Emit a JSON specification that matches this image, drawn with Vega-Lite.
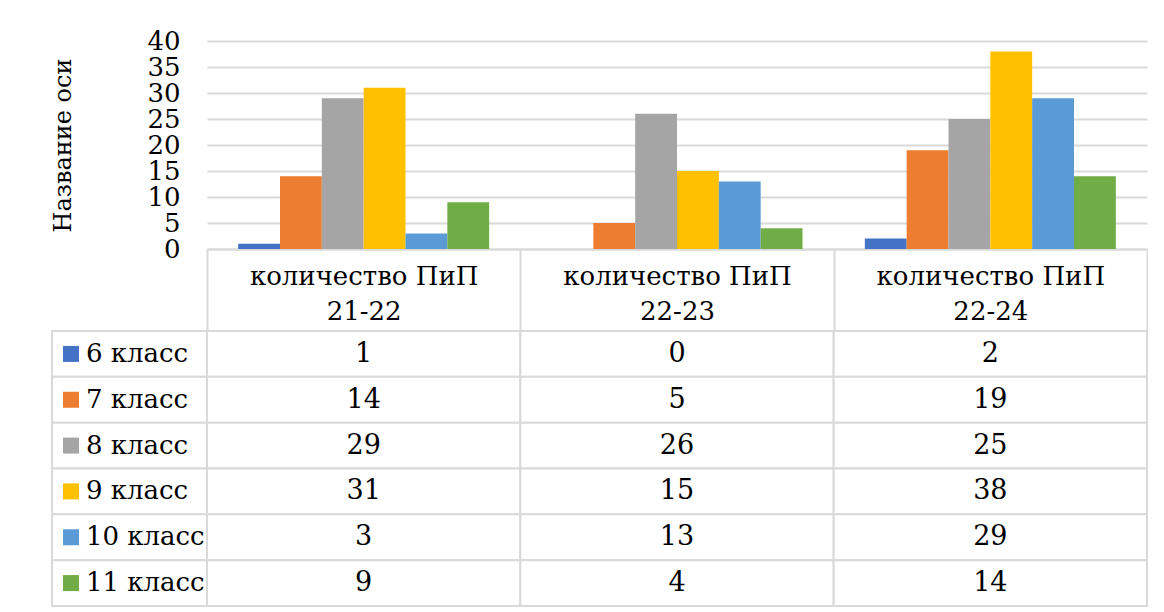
{
  "$schema": "https://vega.github.io/schema/vega-lite/v6.json",
  "background": "white",
  "padding": {"left": 51, "top": 28, "right": 0, "bottom": 0},
  "spacing": {"row": 82, "column": 0},
  "columns": 2,
  "bounds": "flush",
  "config": {
    "font": "DejaVu Serif",
    "view": {"stroke": null},
    "axis": {"labelFont": "DejaVu Serif", "titleFont": "DejaVu Serif", "labelColor": "black", "titleColor": "black"},
    "text": {"font": "DejaVu Serif", "fontSize": 26, "color": "black"}
  },
  "data": {
    "values": [
      {"period": "количество ПиП 21-22", "class": "6 класс", "value": 1},
      {"period": "количество ПиП 21-22", "class": "7 класс", "value": 14},
      {"period": "количество ПиП 21-22", "class": "8 класс", "value": 29},
      {"period": "количество ПиП 21-22", "class": "9 класс", "value": 31},
      {"period": "количество ПиП 21-22", "class": "10 класс", "value": 3},
      {"period": "количество ПиП 21-22", "class": "11 класс", "value": 9},
      {"period": "количество ПиП 22-23", "class": "6 класс", "value": 0},
      {"period": "количество ПиП 22-23", "class": "7 класс", "value": 5},
      {"period": "количество ПиП 22-23", "class": "8 класс", "value": 26},
      {"period": "количество ПиП 22-23", "class": "9 класс", "value": 15},
      {"period": "количество ПиП 22-23", "class": "10 класс", "value": 13},
      {"period": "количество ПиП 22-23", "class": "11 класс", "value": 4},
      {"period": "количество ПиП 22-24", "class": "6 класс", "value": 2},
      {"period": "количество ПиП 22-24", "class": "7 класс", "value": 19},
      {"period": "количество ПиП 22-24", "class": "8 класс", "value": 25},
      {"period": "количество ПиП 22-24", "class": "9 класс", "value": 38},
      {"period": "количество ПиП 22-24", "class": "10 класс", "value": 29},
      {"period": "количество ПиП 22-24", "class": "11 класс", "value": 14}
    ]
  },
  "resolve": {"scale": {"x": "independent", "y": "independent"}},
  "concat": [
    {
      "width": 155,
      "height": 208,
      "transform": [{"filter": "false"}],
      "mark": {"type": "rect"},
      "encoding": {}
    },
    {
      "width": 940,
      "height": 208,
      "mark": {"type": "bar"},
      "encoding": {
        "x": {
          "field": "period", "type": "nominal",
          "sort": ["количество ПиП 21-22", "количество ПиП 22-23", "количество ПиП 22-24"],
          "scale": {"paddingInner": 0, "paddingOuter": 0},
          "axis": {
            "title": null, "labelAngle": 0, "labelFontSize": 26, "labelLineHeight": 35,
            "labelBaseline": "alphabetic", "labelPadding": -46.5, "labelLimit": 0,
            "labelExpr": "[substring(datum.label, 0, lastindexof(datum.label, ' ')), substring(datum.label, lastindexof(datum.label, ' ') + 1)]",
            "tickBand": "extent", "tickSize": 82, "tickColor": "#D9D9D9", "tickWidth": 2,
            "domainColor": "#D9D9D9", "domainWidth": 2, "grid": false
          }
        },
        "xOffset": {
          "field": "class", "type": "nominal",
          "sort": ["6 класс", "7 класс", "8 класс", "9 класс", "10 класс", "11 класс"],
          "scale": {"paddingInner": 0, "paddingOuter": 0.745}
        },
        "y": {
          "field": "value", "type": "quantitative",
          "scale": {"domain": [0, 40]},
          "axis": {
            "values": [0, 5, 10, 15, 20, 25, 30, 35, 40], "labelOverlap": false,
            "title": "Название оси", "titleFontSize": 24, "titleFontWeight": "normal", "titlePadding": 71,
            "domain": false, "ticks": false, "labelPadding": 27, "labelFontSize": 26,
            "gridColor": "#D9D9D9", "gridWidth": 2
          }
        },
        "color": {
          "field": "class", "type": "nominal",
          "sort": ["6 класс", "7 класс", "8 класс", "9 класс", "10 класс", "11 класс"],
          "scale": {"range": ["#4472C4", "#ED7D31", "#A5A5A5", "#FFC000", "#5B9BD5", "#70AD47"]},
          "legend": null
        }
      }
    },
    {
      "width": 155,
      "height": 275,
      "transform": [{"filter": "datum.period === 'количество ПиП 21-22'"}],
      "encoding": {
        "y": {
          "field": "class", "type": "nominal",
          "sort": ["6 класс", "7 класс", "8 класс", "9 класс", "10 класс", "11 класс"],
          "scale": {"paddingInner": 0, "paddingOuter": 0},
          "axis": null
        }
      },
      "layer": [
        {
          "mark": {"type": "rect", "fill": "white", "stroke": "#D9D9D9", "strokeWidth": 2},
          "encoding": {
            "x": {"datum": 0, "type": "quantitative", "scale": {"domain": [0, 1]}, "axis": null},
            "x2": {"datum": 1}
          }
        },
        {
          "mark": {"type": "square", "size": 256, "opacity": 1},
          "encoding": {
            "x": {"datum": 0.1226, "type": "quantitative"},
            "color": {
              "field": "class", "type": "nominal",
              "sort": ["6 класс", "7 класс", "8 класс", "9 класс", "10 класс", "11 класс"],
              "scale": {"range": ["#4472C4", "#ED7D31", "#A5A5A5", "#FFC000", "#5B9BD5", "#70AD47"]},
              "legend": null
            }
          }
        },
        {
          "mark": {"type": "text", "align": "left", "fontSize": 26},
          "encoding": {
            "x": {"datum": 0.219, "type": "quantitative"},
            "text": {"field": "class"}
          }
        }
      ]
    },
    {
      "width": 940,
      "height": 275,
      "encoding": {
        "x": {
          "field": "period", "type": "nominal",
          "sort": ["количество ПиП 21-22", "количество ПиП 22-23", "количество ПиП 22-24"],
          "scale": {"paddingInner": 0, "paddingOuter": 0},
          "axis": null
        },
        "y": {
          "field": "class", "type": "nominal",
          "sort": ["6 класс", "7 класс", "8 класс", "9 класс", "10 класс", "11 класс"],
          "scale": {"paddingInner": 0, "paddingOuter": 0},
          "axis": null
        }
      },
      "layer": [
        {"mark": {"type": "rect", "fill": "white", "stroke": "#D9D9D9", "strokeWidth": 2}},
        {"mark": {"type": "text", "fontSize": 27}, "encoding": {"text": {"field": "value", "type": "quantitative"}}}
      ]
    }
  ]
}
